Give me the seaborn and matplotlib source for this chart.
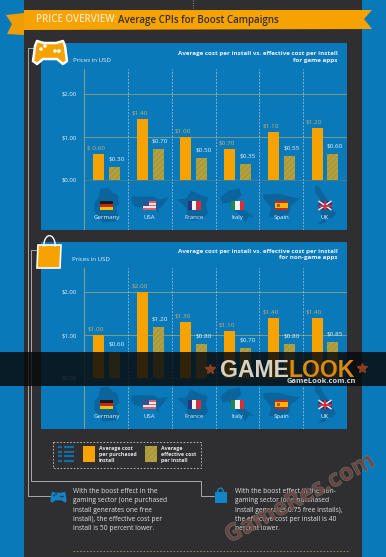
"""
Price overview infographic: average vs effective CPI for boost campaigns
"""

import pandas as pd
import numpy as np
import matplotlib.pyplot as plt
import matplotlib.patheffects as pe
from matplotlib.patches import Polygon, Rectangle, Circle
import seaborn as sns

countries = ['Germany', 'USA', 'France', 'Italy', 'Spain', 'UK']
series_names = ['Average cost per purchased install', 'Average effective cost per install']

game_avg = [0.60, 1.40, 1.00, 0.70, 1.10, 1.20]
game_eff = [0.30, 0.70, 0.50, 0.35, 0.55, 0.60]
game_avg_labels = ['$ 0.60', '$1.40', '$1.00', '$0.70', '$1.10', '$1.20']
game_eff_labels = ['$0.30', '$0.70', '$0.50', '$0.35', '$0.55', '$0.60']

nongame_avg = [1.00, 2.00, 1.30, 1.10, 1.40, 1.40]
nongame_eff = [0.60, 1.20, 0.80, 0.70, 0.80, 0.85]
nongame_avg_labels = ['$1.00', '$2.00', '$1.30', '$1.10', '$1.40', '$1.40']
nongame_eff_labels = ['$0.60', '$1.20', '$0.80', '$0.70', '$0.80', '$0.85']

y_ticks = [0, 1, 2]
y_tick_labels = ['$0.00', '$1.00', '$2.00']

BLUE = '#0a79b9'
DARK = '#2f2f31'
ORANGE = '#f6a200'
GOLD = '#b5a040'
GRID = '#7f9a80'
TAN = '#c4b071'
LINE = '#a9a9a9'
SHAPE = '#0b659c'

W, H = 386, 557

sns.set_theme(style='white')
plt.rcParams['font.family'] = ['Open Sans', 'DejaVu Sans']
plt.rcParams['hatch.linewidth'] = 0.4
plt.rcParams['hatch.color'] = '#6f6a30'

fig = plt.figure(figsize=(W / 100, H / 100), dpi=100)


def pixel_axes(zorder):
    ax = fig.add_axes([0, 0, 1, 1], zorder=zorder)
    ax.set_xlim(0, W)
    ax.set_ylim(H, 0)
    ax.axis('off')
    return ax


def chart_axes(top, bottom, zero_y, px_per_dollar):
    left, right = 84, 347
    ax = fig.add_axes([left / W, 1 - bottom / H, (right - left) / W, (bottom - top) / H], zorder=1)
    ax.set_xlim((left - 106.5) / 43.7, (right - 106.5) / 43.7)
    ax.set_ylim((zero_y - bottom) / px_per_dollar, (zero_y - top) / px_per_dollar)
    return ax


def draw_chart(ax, avg, eff, avg_labels, eff_labels):
    df = pd.DataFrame({
        'country': countries * 2,
        'series': [series_names[0]] * 6 + [series_names[1]] * 6,
        'price': avg + eff,
    })
    ylim = ax.get_ylim()
    sns.barplot(data=df, x='country', y='price', hue='series', order=countries,
                hue_order=series_names, palette=[ORANGE, GOLD], width=0.73, gap=0.31,
                saturation=1, legend=False, ax=ax, zorder=3, linewidth=0, edgecolor='none')
    ax.set_xlim((84 - 106.5) / 43.7, (347 - 106.5) / 43.7)
    ax.set_ylim(ylim)
    ax.set_facecolor(BLUE)
    for s in ax.spines.values():
        s.set_visible(False)
    ax.set_xlabel('')
    ax.set_ylabel('')
    ax.set_xticks([])
    ax.set_yticks([])

    for bar in ax.containers[1]:
        bar.set_hatch('//////')
        bar.set_edgecolor('#8f8a38')
        bar.set_linewidth(0)

    for v in y_ticks:
        ax.axhline(v, color=GRID if v else '#3f7f8f', lw=0.7, zorder=1)
    ax.axvline(-0.515, color='#9aa98a', lw=1.2, zorder=1)
    for i in range(5):
        ax.axvline(i + 0.5, color='#a8c4d4', lw=0.6, ls=(0, (2, 2)), zorder=1)

    for bar, lab in zip(ax.containers[0], avg_labels):
        ax.annotate(lab, (bar.get_x() + bar.get_width() / 2, bar.get_height()), xytext=(-2, 2.5),
                    textcoords='offset points', ha='center', va='bottom', fontsize=4.6, color=TAN, zorder=4)
    for bar, lab in zip(ax.containers[1], eff_labels):
        ax.annotate(lab, (bar.get_x() + bar.get_width() / 2, bar.get_height()), xytext=(1.5, 4),
                    textcoords='offset points', ha='center', va='bottom', fontsize=4.6, color='#e8f2f6', zorder=4)


def stripes_h(ax, cx, cy, colors):
    h = 9 / len(colors)
    for j, c in enumerate(colors):
        ax.add_patch(Rectangle((cx - 6.5, cy - 4.5 + j * h), 13, h, color=c, lw=0, zorder=5))


def stripes_v(ax, cx, cy, colors):
    for j, c in enumerate(colors):
        ax.add_patch(Rectangle((cx - 6.5 + j * 13 / 3, cy - 4.5), 13 / 3, 9, color=c, lw=0, zorder=5))


# rough country outlines, pixels relative to the flag centre
outlines = {
    'Germany': [(-6, -17), (2, -18), (6, -13), (11, -11), (13, -2), (9, 2), (12, 10), (9, 16), (-4, 17), (-8, 11), (-12, 6), (-12, -3), (-8, -8)],
    'USA': [(-18, -9), (4, -9), (10, -6), (19, -8), (14, -1), (9, 4), (10, 9), (5, 3), (-2, 5), (-8, 2), (-15, 1), (-18, -4)],
    'France': [(-3, -15), (3, -12), (14, -8), (12, -1), (14, 8), (8, 13), (-1, 15), (-8, 12), (-7, 4), (-12, -2), (-17, -6), (-8, -7)],
    'Italy': [(-17, -8), (-9, -15), (2, -17), (4, -10), (-2, -5), (4, 2), (12, 8), (17, 12), (11, 11), (8, 17), (4, 11), (-4, 4), (-8, -3), (-15, -2)],
    'Spain': [(-18, -11), (-4, -12), (8, -9), (19, -7), (10, 0), (8, 8), (-2, 12), (-12, 11), (-10, 2), (-14, -3), (-17, -6)],
    'UK': [(-10, -20), (-5, -18), (-1, -10), (3, -5), (7, 3), (11, 8), (8, 13), (-1, 13), (2, 17), (-7, 19), (-2, 13), (-5, 6), (-8, 0), (-5, -7), (-10, -13)],
}


def draw_country(ax, name, cx, cy):
    pts = np.array(outlines[name], dtype=float) + [cx, cy]
    ax.add_patch(Polygon(pts, closed=True, color=SHAPE, lw=0, zorder=4))
    if name == 'Germany':
        stripes_h(ax, cx, cy, ['#1a1a1a', '#c8251f', '#f2c200'])
    elif name == 'USA':
        stripes_h(ax, cx, cy, ['#d8606a', '#f0e4e4', '#d8606a', '#f0e4e4', '#d8606a'])
        ax.add_patch(Rectangle((cx - 6.5, cy - 4.5), 5.5, 4.5, color='#33508f', lw=0, zorder=6))
    elif name == 'France':
        stripes_v(ax, cx, cy, ['#27337f', '#f4f4f4', '#d8303a'])
    elif name == 'Italy':
        stripes_v(ax, cx, cy, ['#1f8a4c', '#f4f4f4', '#d8303a'])
    elif name == 'Spain':
        stripes_h(ax, cx, cy, ['#c8281e', '#f2b705', '#f2b705', '#c8281e'])
        ax.add_patch(Rectangle((cx - 4, cy - 1.5), 3, 3, color='#b5541c', lw=0, zorder=6))
    else:
        ax.add_patch(Rectangle((cx - 6.5, cy - 4.5), 13, 9, color='#2a3b80', lw=0, zorder=5))
        ax.plot([cx - 6.5, cx + 6.5], [cy - 4.5, cy + 4.5], color='#eee', lw=1.1, zorder=6, solid_capstyle='butt')
        ax.plot([cx - 6.5, cx + 6.5], [cy + 4.5, cy - 4.5], color='#eee', lw=1.1, zorder=6, solid_capstyle='butt')
        ax.plot([cx - 6.5, cx + 6.5], [cy, cy], color='#d8303a', lw=1.4, zorder=7, solid_capstyle='butt')
        ax.plot([cx, cx], [cy - 4.5, cy + 4.5], color='#d8303a', lw=1.4, zorder=7, solid_capstyle='butt')
    ax.text(cx, cy + 12, name, ha='center', va='center', fontsize=4.4, color='#e8f2f6', zorder=7)


def gamepad(ax, cx, cy, s, body, edge=None, dots='white'):
    outline = [(-13, -11), (-6, -9), (6, -9), (13, -11), (15, -6), (16, 2), (17, 9), (13, 12), (7, 7), (-7, 7), (-13, 12), (-17, 9), (-16, 2), (-15, -6)]
    pts = np.array(outline, dtype=float) * s + [cx, cy]
    if edge:
        ax.add_patch(Polygon(pts, closed=True, fc=body, ec=edge, lw=1.8, joinstyle='round', zorder=5))
    else:
        ax.add_patch(Polygon(pts, closed=True, fc=body, lw=0, zorder=5))
    for dx, dy in [(-9, -3), (-5, -6), (5, -1), (9, -1)]:
        ax.add_patch(Circle((cx + dx * s, cy + dy * s), 1.8 * s, color=dots, lw=0, zorder=6))


def bag(ax, x0, y0, w, h, body, edge=None, angle_dx=0):
    pts = [(x0 + angle_dx, y0), (x0 + w + angle_dx, y0), (x0 + w, y0 + h), (x0, y0 + h)]
    if edge:
        ax.add_patch(Polygon(pts, closed=True, fc=body, ec=edge, lw=1.2, zorder=5))
    else:
        ax.add_patch(Polygon(pts, closed=True, fc=body, lw=0, zorder=5))
    t = np.linspace(np.pi, 2 * np.pi, 20)
    ax.plot(x0 + w / 2 + angle_dx + w * 0.25 * np.cos(t), y0 + 1 + h * 0.45 * np.sin(t),
            color=edge or body, lw=1.0, zorder=6)


bg = pixel_axes(0)
bg.add_patch(Rectangle((0, 0), W, H, color=BLUE, lw=0))
bg.add_patch(Rectangle((24, 0), 338, H, color=DARK, lw=0))
bg.plot([192.5, 192.5], [0, 8], color='#999', lw=0.7, ls=(0, (1, 1.5)))

# panels behind the charts
bg.add_patch(Rectangle((41, 43), 306, 187, color=BLUE, lw=0))
bg.add_patch(Rectangle((41, 242), 306, 187, color=BLUE, lw=0))

# connecting lines
bg.plot([40, 28, 28, 50], [48, 48, 496, 496], color=LINE, lw=0.7)
bg.plot([37, 31, 31, 201, 201, 214], [250, 250, 481, 481, 496, 496], color=LINE, lw=0.7)

ax1 = chart_axes(69, 230, 179.5, 43)
draw_chart(ax1, game_avg, game_eff, game_avg_labels, game_eff_labels)
ax2 = chart_axes(267.7, 429, 378, 42.85)
draw_chart(ax2, nongame_avg, nongame_eff, nongame_avg_labels, nongame_eff_labels)

top = pixel_axes(2)

# y tick labels and panel titles
for labs, ys in [(y_tick_labels, [179.5, 137.5, 93.5]), (y_tick_labels, [378.5, 336.5, 292])]:
    for lab, y in zip(labs, ys):
        top.text(77, y, lab, ha='right', va='center', fontsize=4.3, color='#e8f2f6')
top.text(73, 60.5, 'Prices in USD', fontsize=4.4, color='#e8f2f6', va='center')
top.text(72.5, 259.5, 'Prices in USD', fontsize=4.4, color='#e8f2f6', va='center')
top.text(337.5, 57, 'Average cost per install vs. effective cost per install\nfor game apps', ha='right',
         va='center', fontsize=4.5, fontweight='bold', color='#e8f2f6', linespacing=1.45)
top.text(337.5, 254.5, 'Average cost per install vs. effective cost per install\nfor non-game apps', ha='right',
         va='center', fontsize=4.5, fontweight='bold', color='#e8f2f6', linespacing=1.45)

centers = [106.5, 149.5, 194, 237.5, 281, 325]
for name, cx in zip(countries, centers):
    draw_country(top, name, cx, 205.5)
    draw_country(top, name, cx, 404.5)

# ribbon header
top.add_patch(Polygon([(6, 15), (24, 13), (24, 35), (7, 34), (12, 24)], closed=True, color='#ee9d02', lw=0, zorder=3))
top.add_patch(Polygon([(24, 10), (372, 10), (364, 19), (372, 29), (24, 30)], closed=True, color=ORANGE, lw=0, zorder=4))
top.text(35.5, 20, 'PRICE OVERVIEW:', fontsize=7.0, fontweight='semibold', color='#fbe9c4', va='center', zorder=5)
top.text(118.5, 20, 'Average CPIs for Boost Campaigns', fontsize=7.0, fontweight='semibold', color='#33302a', va='center', zorder=5)

gamepad(top, 50, 52, 1.0, ORANGE, edge='white')
bag(top, 37, 245, 23, 23, ORANGE, edge='white', angle_dx=1)

# legend box
top.add_patch(Rectangle((53, 441.5), 147.5, 26, fill=False, ec='#c9c9c9', lw=0.6, ls=(0, (2, 2))))
for y in [447, 451.5, 456, 461]:
    top.plot([58, 62], [y, y], color='#0f6ea8', lw=1.6, solid_capstyle='butt')
    top.plot([64, 74], [y, y], color='#0f6ea8', lw=1.6, solid_capstyle='butt')
top.add_patch(Rectangle((83, 446), 12, 16, color=ORANGE, lw=0))
top.add_patch(Rectangle((145, 446), 12, 16, fc=GOLD, ec='#8f8a38', hatch='//////', lw=0))
top.text(99, 454.5, 'Average cost\nper purchased\ninstall', fontsize=3.8, fontweight='bold', color='#e4e4e4', va='center', linespacing=1.3)
top.text(161, 454.5, 'Average\neffective cost\nper install', fontsize=3.8, fontweight='bold', color='#e4e4e4', va='center', linespacing=1.3)

# notes
gamepad(top, 58.5, 497, 0.48, '#1285c6', dots=DARK)
bag(top, 214.5, 492, 12, 11, '#1285c6')
top.text(73, 510, 'With the boost effect in the\ngaming sector (one purchased\ninstall generates one free\ninstall), the effective cost per\ninstall is 50 percent lower.',
         fontsize=4.75, color='#e4e4e4', va='center', linespacing=1.45)
top.text(235, 510, 'With the boost effect in the non-\ngaming sector (one purchased\ninstall generates 0.75 free installs),\nthe effective cost per install is 40\npercent lower.',
         fontsize=4.75, color='#e4e4e4', va='center', linespacing=1.45)
top.plot([73, 348], [550.5, 550.5], color='#a8925a', lw=0.6, ls=(0, (2, 2)))

# site watermarks
top.add_patch(Rectangle((0, 352), W, 33.5, color='#08090b', alpha=0.83, lw=0, zorder=8))
top.text(220, 377, 'GAME', fontsize=16.6, fontweight='bold', family='Liberation Sans', color='#d8d2c4', va='baseline', zorder=9)
top.text(289, 377, 'LOOK', fontsize=16.6, fontweight='bold', family='Liberation Sans', color='#d98a10', va='baseline', zorder=9)
top.text(356, 381.5, 'GameLook.com.cn', fontsize=5.4, fontweight='bold', color='#d8d8d8', ha='right', va='center', zorder=9)
top.plot([210, 362], [369, 368], ls='none', marker='*', ms=7, color='#8a3f1e', zorder=9)
top.text(300, 499, 'GameRes.com', fontsize=17, fontweight='bold', color='#6e4a4c', alpha=0.6, rotation=28,
         rotation_mode='anchor', ha='center', va='center', zorder=9,
         path_effects=[pe.withStroke(linewidth=0.6, foreground='#8f8e68')])

fig.savefig('out.png', dpi=100)
